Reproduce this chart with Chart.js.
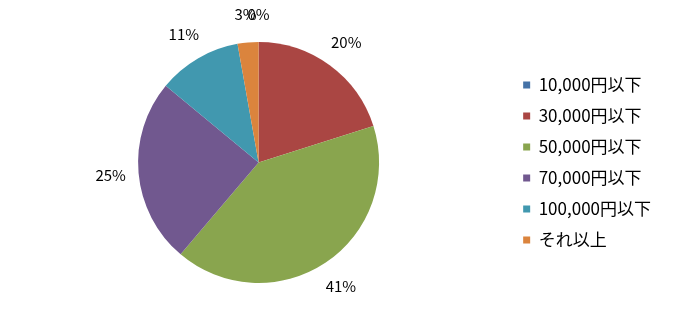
<!DOCTYPE html>
<html>
<head>
<meta charset="utf-8">
<script src="https://cdn.jsdelivr.net/npm/chart.js@4"></script>
<style>
  html, body { margin: 0; padding: 0; background: #ffffff; }
  #wrap { width: 674px; height: 325px; }
</style>
</head>
<body>
<div id="wrap"><canvas id="pieChart" width="674" height="325"></canvas></div>
<script>
// data (percent of total)
var categories = ['10,000円以下', '30,000円以下', '50,000円以下', '70,000円以下', '100,000円以下', 'それ以上'];
var shares = [0, 20.1, 41.1, 24.8, 11.2, 2.8];
var shareLabels = ['0%', '20%', '41%', '25%', '11%', '3%'];
var sliceColors = ['#4572A7', '#AA4643', '#89A54E', '#71588F', '#4198AF', '#DB843D'];

var fontFamily = '"Noto Sans CJK JP", "Noto Sans", sans-serif';

// percentage labels outside each slice
var outsideLabels = {
    id: 'outsideLabels',
    afterDatasetsDraw: function (chart) {
        var ctx = chart.ctx;
        var arcs = chart.getDatasetMeta(0).data;
        ctx.save();
        ctx.font = '15px ' + fontFamily;
        ctx.fillStyle = '#000000';
        ctx.textAlign = 'center';
        ctx.textBaseline = 'middle';
        arcs.forEach(function (arc, i) {
            var p = arc.getProps(['x', 'y', 'startAngle', 'endAngle', 'outerRadius'], true);
            var mid = (p.startAngle + p.endAngle) / 2;
            var r = p.outerRadius + 28;
            ctx.fillText(shareLabels[i], p.x + Math.cos(mid) * r, p.y + Math.sin(mid) * r);
        });
        ctx.restore();
    }
};

var ctx = document.getElementById('pieChart').getContext('2d');
new Chart(ctx, {
    type: 'pie',
    data: {
        labels: categories,
        datasets: [{
            data: shares,
            backgroundColor: sliceColors,
            borderWidth: 0
        }]
    },
    options: {
        responsive: false,
        animation: false,
        layout: {
            padding: { top: 42, bottom: 42, left: 8, right: 13 }
        },
        plugins: {
            legend: {
                position: 'right',
                labels: {
                    boxWidth: 7,
                    boxHeight: 7,
                    padding: 14,
                    color: '#000000',
                    font: { family: fontFamily, size: 17 }
                }
            },
            tooltip: { enabled: false }
        }
    },
    plugins: [outsideLabels]
});
</script>
</body>
</html>
